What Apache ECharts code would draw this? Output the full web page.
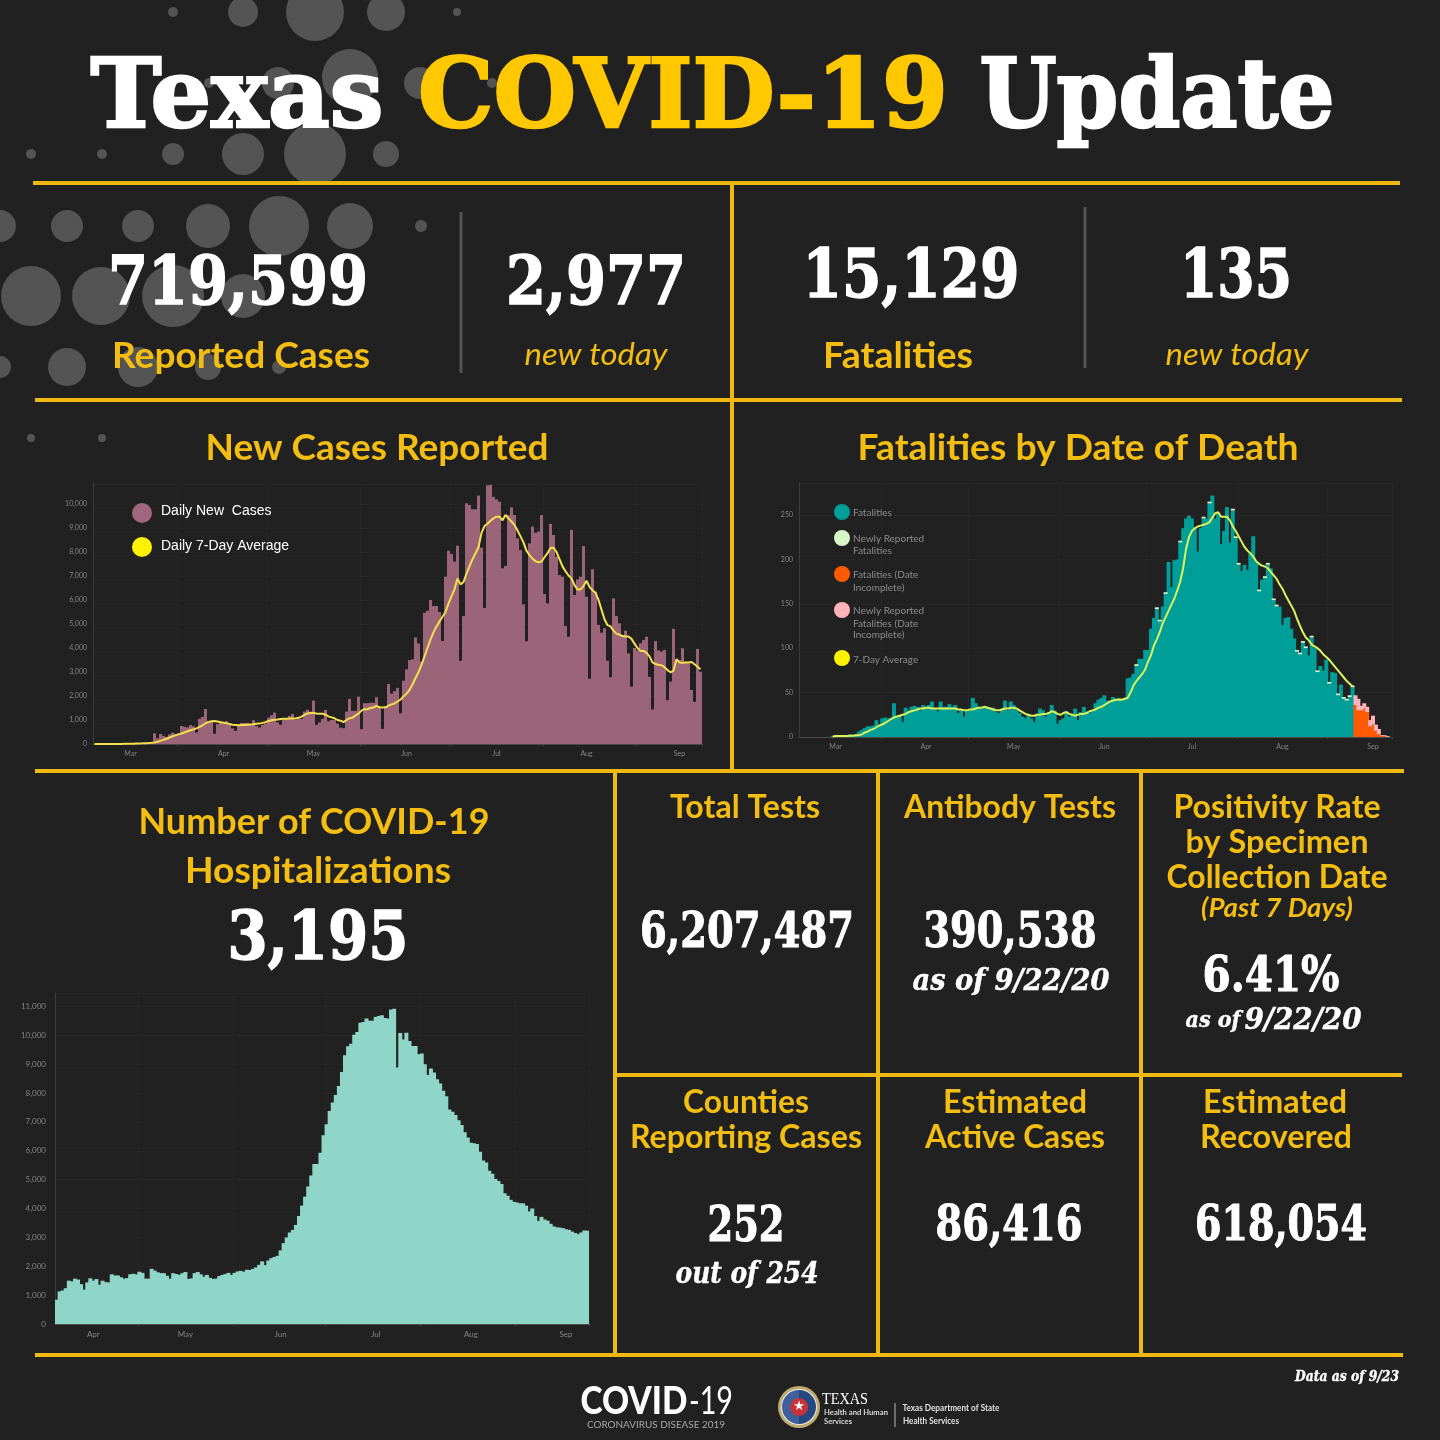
<!DOCTYPE html>
<html>
<head>
<meta charset="utf-8">
<title>Texas COVID-19 Update</title>
<script src="https://cdn.jsdelivr.net/npm/echarts@6/dist/echarts.min.js"></script>
<style>
html, body { margin: 0; padding: 0; background: #212121; }
#dashboard { width: 1440px; height: 1440px; }
</style>
</head>
<body>
<div id="dashboard"></div>
<script>
// 数据 - daily values
const dailyCases = [
  0,0,0,1,0,2,3,3,5,8,
  10,12,15,15,25,20,30,40,45,60,
  444,240,420,340,300,400,470,420,440,750,
  720,690,790,740,480,1050,1130,1460,960,950,
  430,830,950,900,950,850,650,550,790,880,
  880,880,830,990,750,690,800,850,1100,1200,
  1310,900,800,1040,1040,1170,1250,1000,1050,1050,
  1350,1430,1350,1810,800,900,1050,1420,950,1000,
  1000,850,680,660,1350,1880,1380,1380,1970,620,
  1700,1700,1720,1720,1950,1550,630,1500,2500,2100,
  2200,2340,1280,2640,3110,3500,3530,4440,4190,3430,
  5470,5550,6000,5750,5750,5500,4290,6970,8050,7920,
  7600,8260,3470,5330,10030,9960,9780,9780,10350,8180,
  5670,10780,10800,10300,10190,10100,7320,7420,9540,9860,
  9540,8570,8080,5820,4280,8360,9060,8800,8850,9540,
  6250,5860,9170,8710,7800,7040,6970,4920,4470,8920,
  6210,6860,6970,8250,6140,2720,7280,6350,4960,4640,
  4820,3470,2780,6070,5330,5030,4540,4720,3780,2390,
  4000,3900,4200,4330,4470,2800,1440,4290,3900,3850,
  3920,1830,2600,4800,3500,3500,3990,3430,3360,2250,
  1760,3960,3010
];
const casesAverage = [
  0,0,0,1,1,2,2,3,4,5,
  7,9,11,14,18,22,27,33,40,48,
  60,90,130,170,220,270,320,360,400,440,
  480,530,570,610,650,710,780,860,920,950,
  960,940,910,890,870,830,800,790,780,790,
  790,800,810,820,840,850,880,910,960,990,
  1010,1020,1040,1050,1050,1060,1060,1060,1090,1140,
  1210,1270,1290,1290,1270,1260,1260,1220,1150,1110,
  1070,1000,970,910,1000,1070,1100,1180,1270,1390,
  1450,1450,1500,1520,1590,1530,1520,1530,1600,1650,
  1690,1770,1850,1980,2100,2250,2480,2750,3000,3300,
  3650,4000,4350,4650,4900,5100,5300,5500,5850,6150,
  6450,6900,6650,6750,7100,7400,7700,7950,8200,8800,
  9080,9180,9300,9400,9470,9470,9320,9540,9400,9270,
  9120,8900,8650,8400,8050,7870,7720,7620,7570,7600,
  7780,7950,8170,8180,8000,7700,7400,7200,7020,6900,
  6620,6440,6440,6580,6800,6550,6400,6300,6000,5600,
  5200,4950,4900,4720,4600,4550,4500,4480,4480,4380,
  4180,4000,3880,3880,3800,3650,3400,3330,3300,3280,
  3200,3080,2990,3050,3530,3400,3380,3400,3400,3420,
  3320,3220,3110
];
const fatalities = [
  null,null,null,null,null,null,null,null,null,null,
  null,1,1,1,1,2,1,3,2,3,
  6,8,10,12,12,13,19,13,21,22,
  21,22,38,23,25,17,33,30,34,35,
  34,30,36,34,36,40,32,29,40,34,
  34,37,34,36,27,30,23,30,30,44,
  38,34,32,33,34,32,33,28,27,32,
  41,30,40,36,30,27,23,21,25,21,
  17,26,32,30,23,27,36,30,15,19,
  21,29,23,26,32,19,28,34,29,27,
  30,38,42,44,47,41,40,45,42,44,
  42,44,66,67,71,80,88,88,98,98,
  122,134,144,130,147,161,197,169,199,200,
  219,235,246,249,246,235,209,235,246,246,
  263,272,246,252,217,232,259,219,255,224,
  194,187,194,188,207,226,197,164,177,179,
  194,190,154,147,147,126,134,135,122,111,
  96,93,106,100,92,112,100,73,80,75,
  87,60,73,72,47,59,43,41,45,56,
  null,null,null,null,null,null,null,null,null,null,
  null,null,null
];
const newlyReported = [
  0,0,0,0,0,0,0,0,0,0, 0,0,0,0,0,0,0,0,0,0,
  0,0,0,0,0,0,0,0,0,0, 0,0,0,0,0,0,0,0,0,0,
  0,0,0,0,0,0,0,0,0,0, 0,0,0,0,0,0,0,0,0,0,
  0,0,0,0,0,0,0,0,0,0, 0,0,0,0,0,0,0,0,0,0,
  0,0,0,0,0,0,0,0,0,0, 0,0,0,0,0,0,0,0,0,0,
  0,0,0,0,0,0,0,0,0,0,
  0,0,0,0,0,2,0,0,0,0,
  0,0,2,2,0,2,0,0,0,0,
  2,0,0,0,0,0,0,0,2,0,
  2,0,0,0,0,0,0,0,2,2,
  2,0,0,0,0,0,0,2,0,2,
  2,0,2,2,0,0,0,0,0,0,
  2,2,2,2,0,2,0,2,0,0,
  0,2,0,0,2,0,2,2,2,2,
  0,0,0,0,0,0,0,0,0,0,
  0,0,0
];
const incomplete = [
  0,0,0,0,0,0,0,0,0,0, 0,0,0,0,0,0,0,0,0,0,
  0,0,0,0,0,0,0,0,0,0, 0,0,0,0,0,0,0,0,0,0,
  0,0,0,0,0,0,0,0,0,0, 0,0,0,0,0,0,0,0,0,0,
  0,0,0,0,0,0,0,0,0,0, 0,0,0,0,0,0,0,0,0,0,
  0,0,0,0,0,0,0,0,0,0, 0,0,0,0,0,0,0,0,0,0,
  0,0,0,0,0,0,0,0,0,0, 0,0,0,0,0,0,0,0,0,0,
  0,0,0,0,0,0,0,0,0,0, 0,0,0,0,0,0,0,0,0,0,
  0,0,0,0,0,0,0,0,0,0, 0,0,0,0,0,0,0,0,0,0,
  0,0,0,0,0,0,0,0,0,0, 0,0,0,0,0,0,0,0,0,0,
  0,0,0,0,0,0,0,0,0,0,
  36,30,30,32,28,12,14,7,3,1,
  1,0,0
];
const newlyIncomplete = [
  0,0,0,0,0,0,0,0,0,0, 0,0,0,0,0,0,0,0,0,0,
  0,0,0,0,0,0,0,0,0,0, 0,0,0,0,0,0,0,0,0,0,
  0,0,0,0,0,0,0,0,0,0, 0,0,0,0,0,0,0,0,0,0,
  0,0,0,0,0,0,0,0,0,0, 0,0,0,0,0,0,0,0,0,0,
  0,0,0,0,0,0,0,0,0,0, 0,0,0,0,0,0,0,0,0,0,
  0,0,0,0,0,0,0,0,0,0, 0,0,0,0,0,0,0,0,0,0,
  0,0,0,0,0,0,0,0,0,0, 0,0,0,0,0,0,0,0,0,0,
  0,0,0,0,0,0,0,0,0,0, 0,0,0,0,0,0,0,0,0,0,
  0,0,0,0,0,0,0,0,0,0, 0,0,0,0,0,0,0,0,0,0,
  0,0,0,0,0,0,0,0,0,0,
  11,13,5,6,6,7,10,7,6,1,
  1,1,0
];
const fatalitiesAverage = [
  null,null,null,null,null,null,null,null,null,null,
  null,0.5,1,1,1,1,1,1.5,1.5,2,
  2,3,5,6,8,9,11,13,14,16,
  18,20,22,23,24,25,26,28,29,30,
  31,32,32,33,33,32,32,32,32,32,
  32,32,32,32,31,31,30,30,31,31,
  32,33,33,34,33,32,31,30,30,31,
  32,32,33,33,32,30,28,26,25,24,
  24,25,25,26,26,27,29,28,26,25,
  27,28,26,25,24,25,26,26,27,29,
  30,31,33,34,36,38,40,41,42,42,
  42,43,44,50,58,63,67,71,76,85,
  92,103,110,118,128,135,142,149,156,165,
  175,190,212,225,232,235,237,238,239,240,
  242,247,252,253,248,248,248,244,237,232,
  226,220,214,210,207,203,198,195,193,192,
  190,186,182,178,172,167,160,154,148,142,
  133,125,118,112,109,104,102,100,97,93,
  90,87,83,79,75,71,67,63,60,57
];
const hospitalizations = [
  840,1130,1160,1240,1500,1475,1570,1540,1380,1190,
  1440,1580,1500,1555,1360,1500,1450,1440,1720,1680,
  1680,1620,1570,1590,1720,1740,1720,1810,1770,1570,
  1570,1910,1850,1790,1760,1760,1670,1570,1760,1730,
  1700,1760,1800,1560,1580,1760,1800,1720,1640,1700,
  1600,1560,1570,1660,1700,1730,1770,1700,1770,1820,
  1840,1810,1880,1870,1910,1960,2050,2170,2040,2200,
  2280,2320,2360,2550,2800,3000,3170,3260,3430,3740,
  4100,4410,4760,5140,5540,5540,5930,6540,6920,7380,
  7670,7930,8240,8730,9310,9620,9710,10020,10110,10430,
  10460,10580,10500,10500,10630,10670,10690,10600,10580,10890,
  10920,8880,10080,9850,10090,9800,9630,9630,9340,9370,
  9000,8620,8850,8710,8480,8330,8080,7890,7430,7350,
  7240,7060,6890,6640,6460,6280,6260,6230,5970,5660,
  5590,5310,5200,5020,4950,4850,4530,4440,4300,4230,
  4210,4180,4180,4100,3900,4000,3740,3570,3710,3620,
  3580,3470,3380,3350,3340,3320,3280,3260,3200,3150,
  3110,3170,3240,3230
];

// 月份标签所在的日期
const caseMonthLabels = ['Mar 16','Apr 16','May 16','Jun 16','Jul 16','Aug 15','Sep 15'];
const fatalityMonthLabels = ['Mar 16','Apr 16','May 16','Jun 16','Jul 16','Aug 16','Sep 16'];
const hospitalMonthLabels = ['Apr 16','May 16','Jun 16','Jul 17','Aug 17','Sep 17'];

// 按日期生成类目
function buildDays(month, day, count) {
  const names = ['Jan','Feb','Mar','Apr','May','Jun','Jul','Aug','Sep','Oct','Nov','Dec'];
  const days = [];
  for (let i = 0; i < count; i++) {
    const d = new Date(Date.UTC(2020, month, day + i));
    days.push(names[d.getUTCMonth()] + ' ' + d.getUTCDate());
  }
  return days;
}
const caseDays = buildDays(2, 4, dailyCases.length);
const fatalityDays = buildDays(2, 4, fatalities.length);
const hospitalDays = buildDays(3, 4, hospitalizations.length);

const bg = '#212121';
const gold = '#efb911';
const labelYellow = '#f3bd12';
const slab = '"DejaVu Serif"';
const sans = 'Lato';

// 文字:中心点 + 目标宽度
const measure = document.createElement('canvas').getContext('2d');
function txt(str, cx, cy, size, color, family, width, weight, fontStyle) {
  weight = weight || 'bold';
  fontStyle = fontStyle || 'normal';
  measure.font = fontStyle + ' ' + weight + ' ' + size + 'px ' + family;
  const sx = width ? width / measure.measureText(str).width : 1;
  const style = {
    text: str, fill: color, fontSize: size, fontFamily: family,
    fontWeight: weight, fontStyle: fontStyle,
    align: 'center', verticalAlign: 'middle'
  };
  if (family === slab) {
    // 加粗笔画,接近原图的粗衬线字
    cy += size * 0.1;
    style.stroke = color;
    style.lineWidth = size >= 90 ? 2.5 : (size >= 60 ? 1.5 : (size >= 40 ? 1 : 0.4));
  } else if (family === sans && size >= 27) {
    cy += 1;
  }
  return {type: 'text', x: cx, y: cy, scaleX: sx, style: style};
}
function rule(x1, y1, x2, y2, color, w) {
  return {
    type: 'line',
    shape: {x1: x1, y1: y1, x2: x2, y2: y2},
    style: {stroke: color || gold, lineWidth: w || 4}
  };
}
function dot(x, y, r, fill) {
  return {type: 'circle', shape: {cx: x, cy: y, r: r}, style: {fill: fill || 'rgba(255,255,255,0.23)'}};
}
function legendText(str, x, y, size, color, family) {
  return {
    type: 'text', x: x, y: y,
    style: {text: str, fill: color, fontSize: size, fontFamily: family, align: 'left', verticalAlign: 'middle'}
  };
}

// 背景的圆点
const bubbles = [
  [173,12,5],[243,12,15],[315,12,29],[386,12,19],[457,12,4],
  [209,83,5],[278,83,16],[350,77,28],[420,83,16],[492,83,5],
  [31,154,5],[102,154,5],[173,154,11],[243,154,21],[315,154,31],[386,154,13],
  [0,226,16],[67,226,16],[138,226,16],[208,226,22],[279,226,30],[350,226,23],[421,226,6],
  [31,296,30],[101,296,29],[173,296,31],[243,296,22],
  [0,367,11],[67,367,19],[138,367,20],[208,367,13],[279,367,7],
  [31,438,4],[102,438,4]
].map(function (b) { return dot(b[0], b[1], b[2]); });

const frame = [
  rule(33,183,1400,183), rule(732,183,732,771),
  rule(35,400,1402,400), rule(35,771,1404,771),
  rule(615,771,615,1355), rule(878,771,878,1355), rule(1141,771,1141,1355),
  rule(615,1075,1402,1075), rule(35,1355,1403,1355),
  rule(461,212,461,373,'#555555',3), rule(1085,207,1085,368,'#555555',3)
];

const headline = [
  txt('Texas', 237, 92, 96, '#ffffff', slab, 293),
  txt('COVID-19', 683, 92, 96, '#ffc800', slab, 530),
  txt('Update', 1157, 92, 96, '#ffffff', slab, 355),

  txt('719,599', 238, 280, 68, '#ffffff', slab, 260),
  txt('Reported Cases', 241, 355, 36, labelYellow, sans, 258),
  txt('2,977', 596, 280, 68, '#ffffff', slab, 180),
  txt('new today', 596, 354, 30, labelYellow, sans, 143, 'normal', 'italic'),
  txt('15,129', 911, 273, 68, '#ffffff', slab, 217),
  txt('Fatalities', 898, 355, 36, labelYellow, sans, 150),
  txt('135', 1236, 273, 68, '#ffffff', slab, 112),
  txt('new today', 1237, 354, 30, labelYellow, sans, 143, 'normal', 'italic'),

  txt('New Cases Reported', 377, 447, 36, labelYellow, sans, 343),
  txt('Fatalities by Date of Death', 1078, 447, 36, labelYellow, sans, 441),
  txt('Number of COVID-19', 314, 821, 36, labelYellow, sans, 351),
  txt('Hospitalizations', 318, 870, 36, labelYellow, sans, 266),
  txt('3,195', 318, 935, 68, '#ffffff', slab, 181),

  txt('Total Tests', 745, 807, 32, labelYellow, sans, 150),
  txt('Antibody Tests', 1010, 807, 32, labelYellow, sans, 212),
  txt('Positivity Rate', 1277, 807, 32, labelYellow, sans, 207),
  txt('by Specimen', 1277, 842, 32, labelYellow, sans, 183),
  txt('Collection Date', 1277, 877, 32, labelYellow, sans, 221),
  txt('(Past 7 Days)', 1277, 907, 27, labelYellow, sans, 152, 'bold', 'italic'),
  txt('6,207,487', 747, 930, 48, '#ffffff', slab, 214),
  txt('390,538', 1010, 930, 48, '#ffffff', slab, 173),
  txt('as of 9/22/20', 1011, 979, 30, '#ffffff', slab, 197, 'bold', 'italic'),
  txt('6.41%', 1271, 974, 48, '#ffffff', slab, 137),
  txt('as of', 1213, 1019, 22, '#ffffff', slab, 55, 'bold', 'italic'),
  txt('9/22/20', 1303, 1018, 30, '#ffffff', slab, 117, 'bold', 'italic'),

  txt('Counties', 746, 1102, 32, labelYellow, sans, 126),
  txt('Reporting Cases', 746, 1137, 32, labelYellow, sans, 232),
  txt('Estimated', 1015, 1102, 32, labelYellow, sans, 144),
  txt('Active Cases', 1015, 1137, 32, labelYellow, sans, 180),
  txt('Estimated', 1275, 1102, 32, labelYellow, sans, 144),
  txt('Recovered', 1276, 1137, 32, labelYellow, sans, 152),
  txt('252', 746, 1224, 48, '#ffffff', slab, 77),
  txt('out of 254', 747, 1272, 30, '#ffffff', slab, 143, 'bold', 'italic'),
  txt('86,416', 1009, 1223, 48, '#ffffff', slab, 147),
  txt('618,054', 1281, 1223, 48, '#ffffff', slab, 172),
  txt('Data as of 9/23', 1347, 1376, 14, '#ffffff', slab, 104, 'bold', 'italic')
];

// 页脚标志
const footer = [
  txt('COVID', 634, 1401, 38, '#ffffff', sans, 107, 900),
  txt('-19', 711, 1401, 38, '#ffffff', sans, 44, 'normal'),
  txt('CORONAVIRUS DISEASE 2019', 656, 1425, 10, '#a8a8a8', sans, 138, 'normal'),
  dot(799, 1407, 21, '#c0ab70'),
  dot(799, 1407, 18, '#e8e8ec'),
  {type: 'sector', shape: {cx: 799, cy: 1407, r: 17, startAngle: Math.PI / 2, endAngle: Math.PI * 1.5}, style: {fill: '#3d5f9c'}},
  {type: 'sector', shape: {cx: 799, cy: 1407, r: 17, startAngle: -Math.PI / 2, endAngle: Math.PI / 2}, style: {fill: '#24487f'}},
  dot(799, 1407, 9, '#c8323a'),
  txt('★', 799, 1407, 13, '#ffffff', '"DejaVu Sans"', 0, 'normal'),
  txt('TEXAS', 845, 1400, 16, '#ffffff', '"Liberation Serif"', 46, 'normal'),
  txt('Health and Human', 856, 1412, 8, '#d8d8d8', sans, 64),
  txt('Services', 838, 1421, 8, '#d8d8d8', sans, 28),
  rule(895, 1403, 895, 1427, '#bbbbbb', 1),
  txt('Texas Department of State', 951, 1408, 9, '#e0e0e0', sans, 97),
  txt('Health Services', 931, 1421, 9, '#e0e0e0', sans, 56)
];

const legends = [
  dot(142, 513, 10, '#9f667e'),
  legendText('Daily New  Cases', 161, 511, 14, '#ffffff', '"Liberation Sans"'),
  dot(142, 547, 10, '#fff200'),
  legendText('Daily 7-Day Average', 161, 546, 14, '#ffffff', '"Liberation Sans"'),

  dot(842, 512, 8, '#009e98'),
  legendText('Fatalities', 853, 513, 10, '#8c8c8c', sans),
  dot(842, 538, 8, '#d8f7c6'),
  legendText('Newly Reported', 853, 539, 10, '#8c8c8c', sans),
  legendText('Fatalities', 853, 551, 10, '#8c8c8c', sans),
  dot(842, 574, 8, '#ff5a00'),
  legendText('Fatalities (Date', 853, 575, 10, '#8c8c8c', sans),
  legendText('Incomplete)', 853, 588, 10, '#8c8c8c', sans),
  dot(842, 610, 8, '#ffb3b8'),
  legendText('Newly Reported', 853, 611, 10, '#8c8c8c', sans),
  legendText('Fatalities (Date', 853, 624, 10, '#8c8c8c', sans),
  legendText('Incomplete)', 853, 635, 10, '#8c8c8c', sans),
  dot(842, 658, 8, '#fff200'),
  legendText('7-Day Average', 853, 660, 10, '#8c8c8c', sans)
];

// 公共轴配置
function monthAxis(days, gridIndex, monthLabels, fontSize, margin) {
  const isFirst = function (i, v) { return / 1$/.test(v); };
  return {
    type: 'category',
    gridIndex: gridIndex,
    data: days,
    axisLine: {lineStyle: {color: '#4a4a4a'}},
    axisTick: {show: true, interval: isFirst, length: 2, lineStyle: {color: '#4a4a4a'}},
    splitLine: {show: true, interval: isFirst, lineStyle: {color: '#2b2b2b', type: 'dotted'}},
    axisLabel: {
      interval: function (i, v) { return monthLabels.indexOf(v) >= 0; },
      formatter: function (v) { return v.split(' ')[0]; },
      color: '#848484', fontSize: fontSize, margin: margin, fontFamily: sans
    }
  };
}
function countAxis(max, interval, gridIndex, fontSize, margin) {
  return {
    type: 'value',
    gridIndex: gridIndex,
    min: 0,
    max: max,
    interval: interval,
    axisLine: {show: true, lineStyle: {color: '#3c3c3c'}},
    axisTick: {show: false},
    splitLine: {lineStyle: {color: '#2b2b2b', type: 'dotted'}},
    axisLabel: {
      showMaxLabel: false,
      formatter: function (v) { return v.toLocaleString('en-US'); },
      color: '#848484', fontSize: fontSize, margin: margin, fontFamily: sans
    }
  };
}
function bars(name, data, color, axisIndex, stack, width) {
  const s = {
    name: name, type: 'bar', data: data, stack: stack,
    xAxisIndex: axisIndex, yAxisIndex: axisIndex,
    barCategoryGap: '0%', barGap: '0%',
    itemStyle: {color: color}, silent: true
  };
  if (width) s.barWidth = width;
  return s;
}
function avgLine(name, data, color, axisIndex) {
  return {
    name: name, type: 'line', data: data, symbol: 'none',
    xAxisIndex: axisIndex, yAxisIndex: axisIndex,
    lineStyle: {color: color, width: 2}, z: 5, silent: true
  };
}

const option = {
  backgroundColor: bg,
  animation: false,
  grid: [
    {left: 93, top: 484, width: 609, height: 260},
    {left: 799, top: 483, width: 593, height: 254},
    {left: 55, top: 993, width: 534, height: 331}
  ],
  xAxis: [
    monthAxis(caseDays, 0, caseMonthLabels, 7, 6),
    monthAxis(fatalityDays, 1, fatalityMonthLabels, 7, 6),
    monthAxis(hospitalDays, 2, hospitalMonthLabels, 8, 6)
  ],
  yAxis: [
    countAxis(10833, 1000, 0, 7, 6),
    countAxis(286, 50, 1, 7, 6),
    countAxis(11464, 1000, 2, 8, 9)
  ],
  series: [
    bars('Daily New Cases', dailyCases, '#9b6479', 0),
    avgLine('Daily 7-Day Average', casesAverage, '#f4e04d', 0),
    bars('Fatalities', fatalities, '#009e98', 1, 'deaths', 4),
    bars('Newly Reported Fatalities', newlyReported, '#d8f7c6', 1, 'deaths', 4),
    bars('Fatalities (Date Incomplete)', incomplete, '#ff5a00', 1, 'deaths', 4),
    bars('Newly Reported Fatalities (Date Incomplete)', newlyIncomplete, '#ffb3b8', 1, 'deaths', 4),
    avgLine('7-Day Average', fatalitiesAverage, '#dcf25a', 1),
    bars('Hospitalizations', hospitalizations, '#8fd6c9', 2, null, 4)
  ],
  graphic: {
    elements: bubbles.concat(frame, headline, footer, legends).map(function (el) {
      el.z = 10;
      return el;
    })
  }
};

const chart = echarts.init(document.getElementById('dashboard'));
chart.setOption(option);
</script>
</body>
</html>
